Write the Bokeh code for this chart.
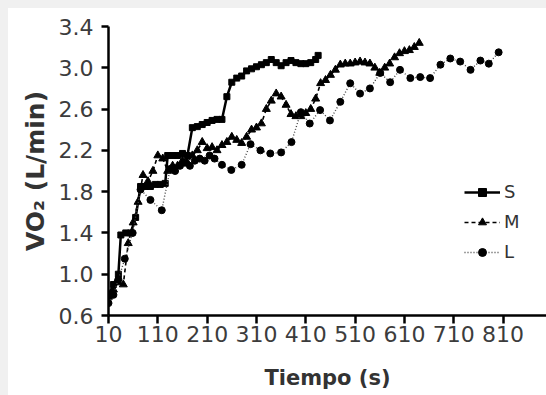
from bokeh.plotting import figure
from bokeh.models import FixedTicker, Legend, LegendItem, Range1d, InlineStyleSheet
from bokeh.embed import file_html
from bokeh.resources import INLINE

# --- data ---
x_ticks = [10, 110, 210, 310, 410, 510, 610, 710, 810]
x_tick_labels = ["10", "110", "210", "310", "410", "510", "610", "710", "810"]
y_ticks = [0.6, 1.0, 1.4, 1.8, 2.2, 2.6, 3.0, 3.4]
y_tick_labels = ["0.6", "1.0", "1.4", "1.8", "2.2", "2.6", "3.0", "3.4"]

s_t = [10, 20, 30, 35, 45, 55, 65, 75, 85, 95, 105, 115, 125, 130, 140, 150, 160, 170,
       180, 190, 200, 210, 220, 230, 240, 250, 260, 270, 280, 290, 300, 310, 320, 330,
       340, 350, 360, 370, 380, 390, 400, 410, 420, 430, 435]
s_v = [0.80, 0.90, 1.00, 1.38, 1.40, 1.40, 1.55, 1.85, 1.85, 1.85, 1.87, 1.87, 1.88,
       2.15, 2.15, 2.15, 2.17, 2.15, 2.42, 2.43, 2.45, 2.47, 2.49, 2.50, 2.50, 2.72,
       2.86, 2.90, 2.92, 2.97, 2.99, 3.01, 3.03, 3.05, 3.08, 3.05, 3.02, 3.05, 3.07,
       3.05, 3.04, 3.04, 3.05, 3.08, 3.12]

m_t = [10, 20, 30, 40, 50, 60, 70, 80, 90, 100, 110, 120, 130, 140, 150, 160, 170, 180,
       190, 200, 210, 220, 230, 240, 250, 260, 270, 280, 290, 300, 310, 320, 330, 340,
       350, 360, 370, 380, 390, 400, 410, 420, 430, 440, 450, 460, 470, 480, 490, 500,
       510, 520, 530, 540, 550, 560, 570, 580, 590, 600, 610, 620, 630, 640]
m_v = [0.78, 0.85, 0.92, 0.90, 1.30, 1.50, 1.70, 1.96, 1.90, 2.00, 2.15, 2.12, 2.00,
       2.05, 2.05, 2.10, 2.08, 2.15, 2.20, 2.28, 2.22, 2.23, 2.20, 2.25, 2.28, 2.33,
       2.30, 2.27, 2.33, 2.40, 2.42, 2.46, 2.60, 2.68, 2.75, 2.72, 2.64, 2.55, 2.53,
       2.53, 2.56, 2.60, 2.70, 2.85, 2.88, 2.93, 2.98, 3.03, 3.04, 3.04, 3.05, 3.06,
       3.05, 3.04, 3.00, 2.95, 3.00, 3.04, 3.10, 3.14, 3.16, 3.17, 3.20, 3.24]

l_t = [10, 20, 30, 43, 59, 75, 95, 118, 135, 145, 155, 165, 175, 185, 195, 205, 215,
       225, 240, 259, 280, 298, 318, 338, 360, 381, 400, 418, 439, 459, 480, 500, 520,
       540, 561, 581, 601, 622, 642, 662, 683, 703, 723, 744, 764, 781, 801]
l_v = [0.72, 0.80, 0.95, 1.15, 1.40, 1.82, 1.72, 1.62, 2.02, 2.00, 2.05, 2.08, 2.05,
       2.10, 2.12, 2.10, 2.15, 2.12, 2.06, 2.01, 2.06, 2.26, 2.20, 2.17, 2.18, 2.28,
       2.57, 2.46, 2.59, 2.49, 2.67, 2.85, 2.75, 2.80, 2.95, 2.86, 2.98, 2.90, 2.91,
       2.90, 3.03, 3.09, 3.06, 2.98, 3.07, 3.04, 3.15]

FONT = "DejaVu Sans"

p = figure(width=546, height=395, output_backend="svg", toolbar_location=None,
           x_range=Range1d(10, 898), y_range=Range1d(0.6, 3.4),
           min_border_left=108, min_border_right=0, min_border_top=26,
           min_border_bottom=80)
p.outline_line_color = None
p.xgrid.visible = False
p.ygrid.visible = False
p.background_fill_color = "white"
p.border_fill_color = None
# white card with a light grey strip along its top and left edges, as in the reference
p.stylesheets = [InlineStyleSheet(css=(
    ":host { background: linear-gradient(#f0f0f0, #f0f0f0) top left / 100% 8px no-repeat, "
    "linear-gradient(#f0f0f0, #f0f0f0) top left / 8px 100% no-repeat, white; }"))]

r_s_line = p.line(s_t, s_v, line_color="black", line_width=2.5)
r_s_pts = p.scatter(s_t, s_v, marker="square", size=6, color="black")
r_m_line = p.line(m_t, m_v, line_color="black", line_width=1.6, line_dash="4 3")
r_m_pts = p.scatter(m_t, m_v, marker="triangle", size=8, color="black")
r_l_line = p.line(l_t, l_v, line_color="#444444", line_width=1.4, line_dash="1 2")
r_l_pts = p.scatter(l_t, l_v, marker="circle", size=7, color="black")

for ax in (p.xaxis[0], p.yaxis[0]):
    ax.axis_line_width = 2.5
    ax.axis_line_color = "black"
    ax.major_tick_line_width = 2.5
    ax.major_tick_line_color = "black"
    ax.major_tick_in = 0
    ax.minor_tick_line_color = None
    ax.major_label_text_font = FONT
    ax.major_label_text_font_size = "22px"
    ax.major_label_text_color = "#3c3c3c"
    ax.axis_label_text_font = FONT
    ax.axis_label_text_font_style = "bold"
    ax.axis_label_text_color = "#333333"

p.xaxis.ticker = FixedTicker(ticks=x_ticks)
p.xaxis.major_label_overrides = dict(zip(x_ticks, x_tick_labels))
p.xaxis.major_tick_out = 8
p.xaxis.major_label_standoff = 2
p.xaxis.axis_label = "Tiempo (s)"
p.xaxis.axis_label_text_font_size = "21px"
p.xaxis.axis_label_standoff = 21

p.yaxis.ticker = FixedTicker(ticks=y_ticks)
p.yaxis.major_label_overrides = dict(zip(y_ticks, y_tick_labels))
p.yaxis.major_tick_out = 7
p.yaxis.major_label_standoff = 8
p.yaxis.axis_label = "VO₂ (L/min)"
p.yaxis.axis_label_text_font_size = "25px"
p.yaxis.axis_label_standoff = 6

legend = Legend(items=[
    LegendItem(label="S", renderers=[r_s_line, r_s_pts]),
    LegendItem(label="M", renderers=[r_m_line, r_m_pts]),
    LegendItem(label="L", renderers=[r_l_line, r_l_pts]),
], location=(356, 53))
legend.border_line_color = None
legend.background_fill_alpha = 0
legend.padding = 0
legend.margin = 0
legend.spacing = 9
legend.glyph_width = 36
legend.glyph_height = 20
legend.label_height = 20
legend.label_standoff = 4
legend.label_text_font = FONT
legend.label_text_font_size = "18px"
legend.label_text_color = "#333333"
p.add_layout(legend, "center")

open("out.html", "w").write(file_html(p, INLINE))
